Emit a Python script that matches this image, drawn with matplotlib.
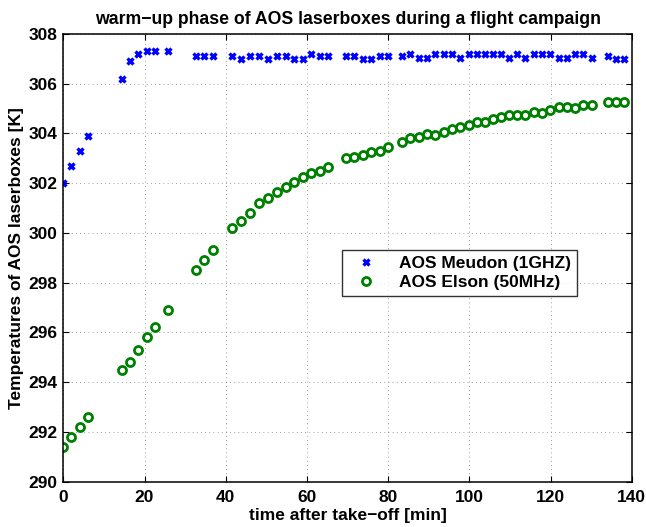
import numpy as np
import matplotlib
matplotlib.use('Agg')
import matplotlib.pyplot as plt

plt.rcParams['font.family'] = ['Liberation Sans', 'DejaVu Sans']
plt.rcParams['font.weight'] = 'bold'
plt.rcParams['axes.titleweight'] = 'bold'
plt.rcParams['axes.labelweight'] = 'bold'

# time after take-off [min]
t_min = [0, 2, 4, 6, 14.4, 16.4, 18.5, 20.5, 22.6, 25.9,
         32.7, 34.7, 36.9, 41.6, 43.7, 45.9, 48.1, 50.5, 52.7, 54.8,
         56.9, 59.0, 61.0, 63.1, 65.2, 69.5, 71.6, 73.7, 75.8, 77.9,
         80.0, 83.5, 85.5, 87.6, 89.6, 91.6, 93.7, 95.7, 97.7, 99.8,
         101.8, 103.8, 105.8, 107.8, 109.8, 111.8, 113.8, 115.9, 117.9, 119.9,
         122.0, 124.0, 126.1, 128.1, 130.2, 134.1, 136.1, 138.2]

# AOS Meudon (1GHZ) temperatures [K]
meudon_K = [302.0, 302.7, 303.3, 303.9, 306.2, 306.9, 307.2, 307.3, 307.3, 307.3,
            307.1, 307.1, 307.1, 307.1, 307.0, 307.1, 307.1, 307.0, 307.1, 307.1,
            307.0, 307.0, 307.2, 307.1, 307.1, 307.1, 307.1, 307.0, 307.0, 307.1,
            307.1, 307.1, 307.2, 307.05, 307.05, 307.2, 307.2, 307.2, 307.05, 307.2,
            307.2, 307.2, 307.2, 307.2, 307.05, 307.2, 307.05, 307.2, 307.2, 307.2,
            307.05, 307.05, 307.2, 307.2, 307.05, 307.1, 307.0, 307.0]

# AOS Elson (50MHz) temperatures [K]
elson_K = [291.4, 291.8, 292.2, 292.6, 294.5, 294.8, 295.3, 295.8, 296.2, 296.9,
           298.5, 298.9, 299.3, 300.2, 300.5, 300.8, 301.2, 301.4, 301.65, 301.85,
           302.05, 302.25, 302.4, 302.5, 302.65, 303.0, 303.05, 303.15, 303.25, 303.3,
           303.45, 303.65, 303.8, 303.85, 303.97, 303.95, 304.06, 304.16, 304.25, 304.36,
           304.47, 304.48, 304.58, 304.65, 304.75, 304.73, 304.73, 304.85, 304.84, 304.96,
           305.05, 305.05, 305.04, 305.15, 305.15, 305.25, 305.25, 305.25]

fig = plt.figure(figsize=(6.46, 5.27), dpi=100)
ax = fig.add_axes([0.098, 0.086, 0.880, 0.8495])

ax.plot(t_min, meudon_K, ls='none', marker='x', color='#0000ff',
        ms=4.5, mew=2.4, label='AOS Meudon (1GHZ)')
ax.plot(t_min, elson_K, ls='none', marker='o', mfc='none', mec='#008000',
        ms=5.8, mew=2.0, label='AOS Elson (50MHz)')

ax.set_xlim(0, 140)
ax.set_ylim(290, 308)
ax.set_xticks(np.arange(0, 141, 20))
ax.set_yticks(np.arange(290, 309, 2))
ax.grid(True, color='0.5', ls=(0, (1, 4)), lw=0.6)
ax.tick_params(direction='in', top=True, right=True, length=4,
               width=0.8, labelsize=12.5)
ax.tick_params(axis='x', pad=6)
ax.tick_params(axis='y', pad=4)
for sp in ax.spines.values():
    sp.set_linewidth(1.1)

ax.set_xlabel('time after take\u2212off [min]', fontsize=12.5, labelpad=2)
ax.set_ylabel('Temperatures of AOS laserboxes [K]', fontsize=12.5, labelpad=3)
ax.set_title('warm\u2212up phase of AOS laserboxes during a flight campaign',
             fontsize=12.7, pad=7)

leg = ax.legend(loc='upper left', bbox_to_anchor=(0.491, 0.5175),
                borderaxespad=0, fancybox=False, fontsize=12.5,
                handletextpad=0.9, handlelength=2.0, borderpad=0.35,
                labelspacing=0.2)
leg.get_frame().set_edgecolor('k')
leg.get_frame().set_linewidth(1.0)

fig.savefig('out.png', dpi=100)
